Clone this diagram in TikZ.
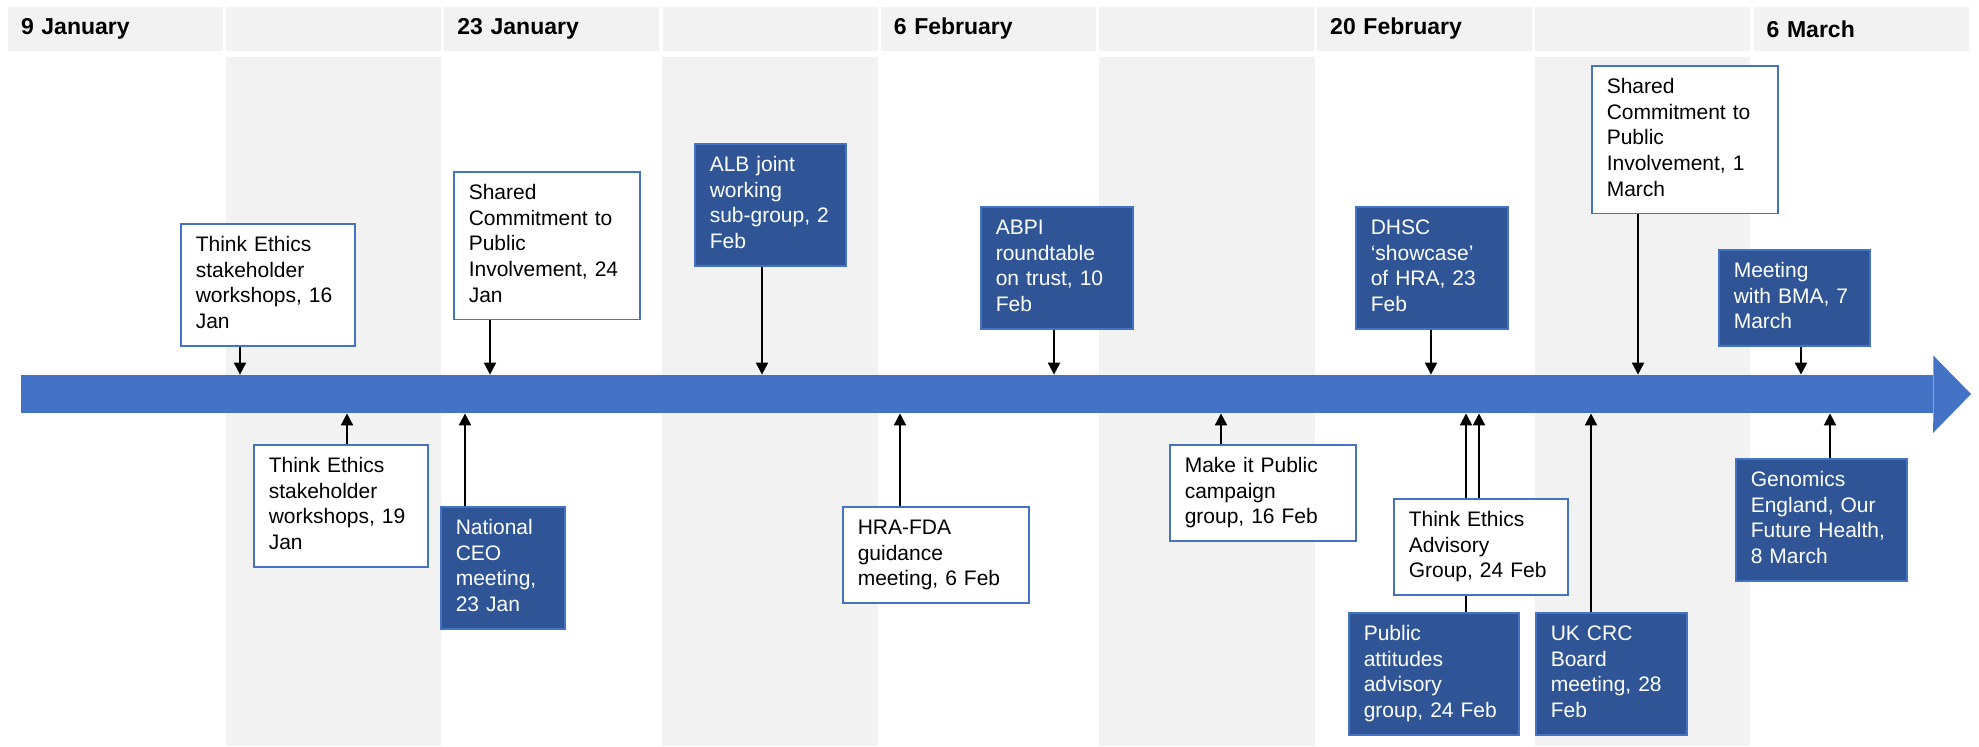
\documentclass[tikz,border=0pt]{standalone}
\usepackage{fontspec}
\setmainfont{Liberation Sans}
\usepackage{xcolor}
\usepackage{tikz}
\usetikzlibrary{arrows.meta,positioning}

\definecolor{bandgrey}{HTML}{F2F2F2}
\definecolor{axisblue}{HTML}{4472C4}
\definecolor{darkblue}{HTML}{2F5597}

\begin{document}
\begin{tikzpicture}[x=0.5pt, y=-0.5pt, node distance=1.6pt,
                    month/.style={fill=bandgrey, anchor=north west, minimum height=22pt,
                                  text width=94.5pt, inner xsep=6.5pt, inner ysep=0pt, outer sep=0pt,
                                  align=left, font=\fontsize{11.5}{13}\selectfont\bfseries},
                    plainbox/.style={draw=axisblue, line width=0.75pt, fill=white, anchor=north west,
                                  align=left, inner xsep=7.5pt, inner ysep=4.8pt,
                                  font=\fontsize{10.5}{12.85}\selectfont,
                                  execute at begin node=\strut, execute at end node=\strut},
                    darkbox/.style={plainbox, fill=darkblue, text=white},
                    datelink/.style={-{Triangle[length=6pt,width=6pt]}, line width=1pt}]
    %\draw[help lines] (0,0) grid[step=100] (1979,746);
    \useasboundingbox (0,0) rectangle (1979,746);
    \fill[white] (0,0) rectangle (1979,746);

    % fortnight columns
    \fill[bandgrey] (226,57) rectangle (441,746);
    \fill[bandgrey] (662,57) rectangle (878,746);
    \fill[bandgrey] (1099,57) rectangle (1315,746);
    \fill[bandgrey] (1535,57) rectangle (1750,746);

    \node[month] (h1) at (8,7) {9 January};
    \node[month, right=of h1] (h2) {};
    \node[month, right=of h2] (h3) {23 January};
    \node[month, right=of h3] (h4) {};
    \node[month, right=of h4] (h5) {6 February};
    \node[month, right=of h5] (h6) {};
    \node[month, right=of h6] (h7) {20 February};
    \node[month, right=of h7] (h8) {};
    \node[month, right=of h8] (h9) {6 March};

    % the timeline
    \node[fill=axisblue, minimum width=956pt, minimum height=19pt, inner sep=0pt] (axis) at (977,394) {};
    \fill[axisblue] (axis.north east) -- ++(0,-19) -- (1971,394) -- (1933,433) -- (axis.south east) -- cycle;

    \coordinate (d16jan) at (240,394);
    \coordinate (d19jan) at (347,394);
    \coordinate (d23jan) at (465,394);
    \coordinate (d24jan) at (490,394);
    \coordinate (d2feb) at (762,394);
    \coordinate (d6feb) at (900,394);
    \coordinate (d10feb) at (1054,394);
    \coordinate (d16feb) at (1221,394);
    \coordinate (d23feb) at (1431,394);
    \coordinate (d24feb) at (1466,394);
    \coordinate (d24febt) at (1479,394);
    \coordinate (d28feb) at (1591,394);
    \coordinate (d1mar) at (1638,394);
    \coordinate (d7mar) at (1801,394);
    \coordinate (d8mar) at (1830,394);

    % above the line
    \node[plainbox, text width=72pt] (te16) at (180,223) {Think Ethics\\ stakeholder\\ workshops, 16\\ Jan};
    \node[plainbox, text width=78pt] (sc24) at (453,171) {Shared\\ Commitment to\\ Public\\ Involvement, 24\\ Jan};
    \node[darkbox, text width=60.5pt] (alb) at (694,143) {ALB joint\\ working\\ sub-group, 2\\ Feb};
    \node[darkbox, text width=61pt] (abpi) at (980,206) {ABPI\\ roundtable\\ on trust, 10\\ Feb};
    \node[darkbox, text width=61pt] (dhsc) at (1355,206) {DHSC\\ ‘showcase’\\ of HRA, 23\\ Feb};
    \node[plainbox, text width=78pt] (sc1m) at (1591,65) {Shared\\ Commitment to\\ Public\\ Involvement, 1\\ March};
    \node[darkbox, text width=60.5pt] (bma) at (1718,249) {Meeting\\ with BMA, 7\\ March};

    % below the line
    \node[plainbox, text width=72pt] (te19) at (253,444) {Think Ethics\\ stakeholder\\ workshops, 19\\ Jan};
    \node[darkbox, text width=47pt] (ceo) at (440,506) {National\\ CEO\\ meeting,\\ 23 Jan};
    \node[plainbox, text width=78pt] (hrafda) at (842,506) {HRA-FDA\\ guidance\\ meeting, 6 Feb};
    \node[plainbox, text width=78pt] (mip) at (1169,444) {Make it Public\\ campaign\\ group, 16 Feb};
    \node[plainbox, text width=72pt] (teag) at (1393,498) {Think Ethics\\ Advisory\\ Group, 24 Feb};
    \node[darkbox, text width=70pt] (paag) at (1348,612) {Public\\ attitudes\\ advisory\\ group, 24 Feb};
    \node[darkbox, text width=60.5pt] (ukcrc) at (1535,612) {UK CRC\\ Board\\ meeting, 28\\ Feb};
    \node[darkbox, text width=70.5pt] (gen) at (1735,458) {Genomics\\ England, Our\\ Future Health,\\ 8 March};

    % Define links to the dates
    \draw[datelink] (te16.south -| d16jan) -- (axis.north -| d16jan);
    \draw[datelink] (sc24.south -| d24jan) -- (axis.north -| d24jan);
    \draw[datelink] (alb.south -| d2feb) -- (axis.north -| d2feb);
    \draw[datelink] (abpi.south -| d10feb) -- (axis.north -| d10feb);
    \draw[datelink] (dhsc.south -| d23feb) -- (axis.north -| d23feb);
    \draw[datelink] (sc1m.south -| d1mar) -- (axis.north -| d1mar);
    \draw[datelink] (bma.south -| d7mar) -- (axis.north -| d7mar);

    \draw[datelink] (te19.north -| d19jan) -- (axis.south -| d19jan);
    \draw[datelink] (ceo.north -| d23jan) -- (axis.south -| d23jan);
    \draw[datelink] (hrafda.north -| d6feb) -- (axis.south -| d6feb);
    \draw[datelink] (mip.north -| d16feb) -- (axis.south -| d16feb);
    \draw[line width=1pt] (paag.north -| d24feb) -- (teag.south -| d24feb);
    \draw[datelink] (teag.north -| d24feb) -- (axis.south -| d24feb);
    \draw[datelink] (teag.north -| d24febt) -- (axis.south -| d24febt);
    \draw[datelink] (ukcrc.north -| d28feb) -- (axis.south -| d28feb);
    \draw[datelink] (gen.north -| d8mar) -- (axis.south -| d8mar);

\end{tikzpicture}
\end{document}
